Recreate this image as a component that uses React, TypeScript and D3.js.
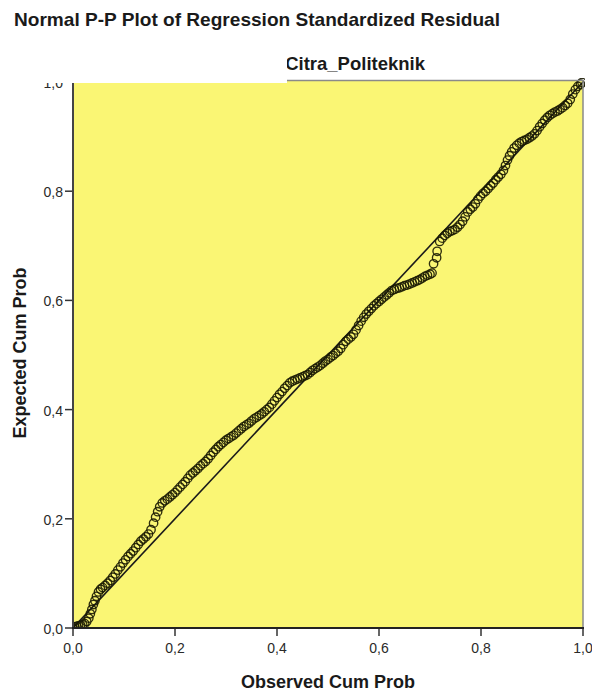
import React from "react";
import * as d3 from "d3";

const title = "Normal P-P Plot of Regression Standardized Residual";
const subtitle = "Dependent Variable: Citra_Politeknik";
const xTitle = "Observed Cum Prob";
const yTitle = "Expected Cum Prob";
const tickValues = [0, 0.2, 0.4, 0.6, 0.8, 1.0];
const tickLabels = ["0,0", "0,2", "0,4", "0,6", "0,8", "1,0"];

const observed = [
  0.0, 0.003, 0.007, 0.011, 0.015, 0.019, 0.023, 0.027, 0.031, 0.034, 0.037, 0.04, 0.043, 0.046, 0.05,
  0.054, 0.058, 0.063, 0.068, 0.073, 0.078, 0.083, 0.088, 0.093, 0.098,
  0.103, 0.108, 0.113, 0.118, 0.123, 0.128, 0.133, 0.138, 0.143, 0.148, 0.153, 0.158,
  0.162, 0.166, 0.17, 0.175, 0.18, 0.185, 0.19, 0.195, 0.2, 0.205, 0.21, 0.215, 0.22, 0.225,
  0.23, 0.235, 0.24, 0.245, 0.25, 0.255, 0.26, 0.265, 0.27, 0.275, 0.28, 0.285, 0.29, 0.295,
  0.3, 0.305, 0.31, 0.315, 0.32, 0.325, 0.33, 0.335, 0.34, 0.345, 0.35, 0.355, 0.36,
  0.365, 0.37, 0.375, 0.38, 0.385, 0.39, 0.395, 0.4, 0.405, 0.41, 0.415, 0.42, 0.425,
  0.43, 0.435, 0.44, 0.445, 0.45, 0.455, 0.46, 0.465, 0.47, 0.475, 0.48, 0.485, 0.49, 0.495,
  0.5, 0.505, 0.51, 0.515, 0.52, 0.525, 0.53, 0.535, 0.54, 0.545, 0.55, 0.555, 0.56,
  0.565, 0.57, 0.575, 0.58, 0.585, 0.59, 0.595, 0.6, 0.605, 0.61, 0.615, 0.62, 0.625, 0.63,
  0.635, 0.64, 0.645, 0.65, 0.655, 0.66, 0.665, 0.67, 0.675, 0.68, 0.685, 0.69, 0.695, 0.7, 0.704,
  0.707, 0.713, 0.714,
  0.719, 0.724, 0.729, 0.734, 0.739, 0.744, 0.749, 0.754, 0.759, 0.764, 0.769, 0.774, 0.779, 0.784, 0.789, 0.794, 0.799,
  0.804, 0.809, 0.814, 0.819, 0.824, 0.829, 0.834, 0.839, 0.844, 0.848, 0.852, 0.856, 0.86,
  0.865, 0.87, 0.875, 0.88, 0.885, 0.89, 0.895, 0.9, 0.905, 0.91, 0.915, 0.92, 0.925, 0.93,
  0.935, 0.94, 0.945, 0.95, 0.955, 0.96, 0.965, 0.97, 0.975, 0.98, 0.985, 0.99, 0.995, 0.998,
];

const expected = [
  0.0, 0.002, 0.003, 0.004, 0.005, 0.006, 0.008, 0.012, 0.018, 0.026, 0.034, 0.043, 0.05, 0.058, 0.066,
  0.071, 0.074, 0.078, 0.082, 0.087, 0.093, 0.099, 0.106, 0.112, 0.119,
  0.125, 0.131, 0.136, 0.141, 0.147, 0.153, 0.159, 0.163, 0.167, 0.172, 0.18, 0.192,
  0.203, 0.213, 0.222, 0.229, 0.233, 0.236, 0.24, 0.244, 0.248, 0.253, 0.258, 0.263, 0.268, 0.274,
  0.28, 0.284, 0.288, 0.292, 0.297, 0.301, 0.305, 0.31, 0.316, 0.322, 0.327, 0.332, 0.336, 0.34,
  0.344, 0.347, 0.35, 0.353, 0.357, 0.361, 0.365, 0.369, 0.372, 0.375, 0.379, 0.383, 0.386,
  0.389, 0.392, 0.396, 0.4, 0.404, 0.41, 0.416, 0.422, 0.428, 0.433, 0.439, 0.444, 0.449,
  0.452, 0.454, 0.456, 0.458, 0.46, 0.462, 0.464, 0.468, 0.472, 0.475, 0.478, 0.481, 0.485, 0.489,
  0.492, 0.496, 0.499, 0.503, 0.507, 0.512, 0.519, 0.525, 0.529, 0.533, 0.538, 0.546, 0.554,
  0.562, 0.569, 0.575, 0.58, 0.585, 0.59, 0.594, 0.598, 0.602, 0.606, 0.61, 0.614, 0.618, 0.62,
  0.622, 0.623, 0.625, 0.627, 0.628, 0.63, 0.632, 0.634, 0.636, 0.638, 0.641, 0.644, 0.646, 0.648, 0.65,
  0.667, 0.678, 0.69,
  0.708, 0.714, 0.719, 0.723, 0.726, 0.728, 0.73, 0.734, 0.739, 0.745, 0.753, 0.762, 0.767, 0.771, 0.777, 0.785, 0.791,
  0.796, 0.8, 0.805, 0.81, 0.815, 0.821, 0.826, 0.831, 0.838, 0.847, 0.857, 0.865, 0.872,
  0.879, 0.884, 0.888, 0.891, 0.893, 0.895, 0.898, 0.901, 0.905, 0.911, 0.918, 0.924, 0.93, 0.935,
  0.939, 0.942, 0.945, 0.947, 0.95, 0.953, 0.957, 0.961, 0.968, 0.978, 0.986, 0.992, 0.996, 0.999,
];

const W = 592;
const H = 692;
const left = 73;
const right = 583;
const bottom = 628;
const top = 82;
const font = "'Liberation Sans', Arial, sans-serif";

export default function App() {
  const x = d3.scaleLinear().domain([0, 1]).range([left, right]);
  const y = d3.scaleLinear().domain([0, 1]).range([bottom, top]);
  const diag = d3.line<number>().x((d) => x(d)).y((d) => y(d))([0, 1]) || "";
  const pts = observed.map((o, i) => ({ o, e: expected[i] }));

  return (
    <div style={{ position: "absolute", left: 0, top: 0 }}>
      <svg width={W} height={H} style={{ display: "block", background: "#fff" }}>
        <defs>
          <clipPath id="plotClip">
            <rect x={left} y={top - 4} width={right - left + 2} height={bottom - top + 4} />
          </clipPath>
          <clipPath id="subClip">
            <rect x={287} y={0} width={W} height={100} />
          </clipPath>
        </defs>
        <text x={14} y={26} fontFamily={font} fontSize={19} fontWeight="bold" fill="#1a1a1a" textLength={486} lengthAdjust="spacingAndGlyphs">
          {title}
        </text>

        {/* plot background */}
        <rect x={left} y={top - 1} width={right - left} height={bottom - top + 1} fill="#FAF674" />

        {/* y tick labels */}
        {tickValues.map((v, i) => (
          <g key={"y" + i}>
            <line x1={left - 8} x2={left} y1={y(v)} y2={y(v)} stroke="#333" strokeWidth={1.5} />
            <text x={63} y={y(v) + 1} dy="0.35em" textAnchor="end" fontFamily={font} fontSize={14} fill="#2a2a2a">
              {tickLabels[i]}
            </text>
          </g>
        ))}

        {/* x ticks */}
        {tickValues.map((v, i) => (
          <g key={"x" + i}>
            <line x1={x(v)} x2={x(v)} y1={bottom} y2={bottom + 8} stroke="#333" strokeWidth={1.5} />
            <text x={x(v)} y={653} textAnchor="middle" fontFamily={font} fontSize={14} fill="#2a2a2a">
              {tickLabels[i]}
            </text>
          </g>
        ))}

        {/* points and diagonal */}
        <g clipPath="url(#plotClip)">
          <path d={diag} stroke="#1a1a1a" strokeWidth={1.6} fill="none" />
          {pts.map((p, i) => (
            <circle key={i} cx={x(p.o)} cy={y(p.e)} r={4.2} fill="none" stroke="#1a1a03" strokeWidth={1.35} strokeOpacity={0.9} />
          ))}
        </g>

        {/* borders */}
        <line x1={left} x2={right} y1={top - 1.5} y2={top - 1.5} stroke="#8a8a8a" strokeWidth={1.5} />
        <line x1={right} x2={right} y1={top - 2} y2={bottom} stroke="#8a8a8a" strokeWidth={1.5} />
        <line x1={left} x2={left} y1={top - 2} y2={bottom + 1} stroke="#444" strokeWidth={2} />
        <line x1={left - 1} x2={right + 1} y1={bottom} y2={bottom} stroke="#222" strokeWidth={2} />

        {/* white cover over subtitle area (as in the cropped original) */}
        <rect x={0} y={40} width={287} height={43} fill="#fff" />
        <g clipPath="url(#subClip)">
          <text x={425} y={70} textAnchor="end" fontFamily={font} fontSize={18.5} fontWeight="bold" fill="#1a1a1a">
            {subtitle}
          </text>
        </g>

        {/* axis titles */}
        <text x={328} y={688} textAnchor="middle" fontFamily={font} fontSize={18} fontWeight="bold" fill="#1a1a1a">
          {xTitle}
        </text>
        <text
          transform="translate(26,353) rotate(-90)"
          textAnchor="middle"
          fontFamily={font}
          fontSize={18}
          fontWeight="bold"
          fill="#1a1a1a"
        >
          {yTitle}
        </text>
      </svg>
    </div>
  );
}
